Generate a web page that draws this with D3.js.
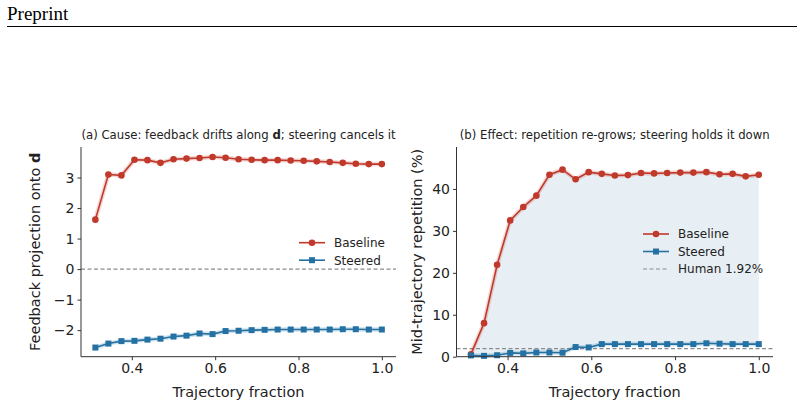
<!DOCTYPE html>
<html>
<head>
<meta charset="utf-8">
<script src="https://cdn.jsdelivr.net/npm/d3@7"></script>
<style>
  body { margin: 0; background: #fff; }
  svg text { font-family: "DejaVu Sans", sans-serif; fill: #222; }
</style>
</head>
<body>
<svg id="fig" width="804" height="406"></svg>
<script>
// trajectory fractions (i/32 for i = 10..32)
const fractions = d3.range(10, 33).map(i => i / 32);

// panel (a): feedback projection onto d
const projBaseline = [1.62, 3.10, 3.07, 3.58, 3.57, 3.48, 3.60, 3.62, 3.64, 3.67, 3.65, 3.60,
  3.58, 3.57, 3.57, 3.56, 3.55, 3.53, 3.51, 3.48, 3.45, 3.44, 3.44];
const projSteered = [-2.57, -2.44, -2.36, -2.35, -2.31, -2.28, -2.21, -2.18, -2.11, -2.13, -2.03, -2.02,
  -2.00, -1.99, -1.98, -1.98, -1.98, -1.98, -1.98, -1.97, -1.97, -1.98, -1.98];

// panel (b): mid-trajectory repetition (%)
const repBaseline = [0.6, 8.0, 21.9, 32.5, 35.7, 38.4, 43.4, 44.6, 42.3, 44.0, 43.6, 43.2,
  43.3, 43.8, 43.7, 43.8, 43.9, 43.9, 44.0, 43.5, 43.6, 43.0, 43.4];
const repSteered = [0.3, 0.2, 0.35, 0.9, 0.8, 1.0, 1.0, 0.95, 2.3, 2.2, 3.0, 3.0,
  3.0, 3.0, 3.0, 3.0, 3.0, 3.0, 3.2, 3.1, 3.0, 3.0, 3.0];
const humanRate = 1.92;

const xTicks = [0.4, 0.6, 0.8, 1.0];
const projTicks = [-2, -1, 0, 1, 2, 3];
const repTicks = [0, 10, 20, 30, 40];

const red = "#c0392b", blue = "#2471a3";

const svg = d3.select("#fig");

// page header
svg.append("text").attr("x", 7).attr("y", 20)
  .style("font-family", "'Liberation Serif', 'Times New Roman', serif")
  .style("font-size", "19px").style("fill", "#000")
  .text("Preprint");
svg.append("line").attr("x1", 7).attr("x2", 797).attr("y1", 26.5).attr("y2", 26.5)
  .attr("stroke", "#000").attr("stroke-width", 1);

const plotTop = 147, plotBottom = 356.7;

function panel(opts) {
  const g = svg.append("g");
  const x = d3.scaleLinear().domain([0.278, 1.034]).range([opts.left, opts.right]);
  const y = d3.scaleLinear().domain(opts.ydom).range([plotBottom, plotTop]);

  if (opts.fill) {
    g.append("path")
      .datum(fractions.map((f, i) => [f, opts.series[0].values[i], opts.series[1].values[i]]))
      .attr("fill", "#e8eff4")
      .attr("d", d3.area().x(d => x(d[0])).y0(d => y(d[2])).y1(d => y(d[1])));
  }

  // reference line
  g.append("line")
    .attr("x1", opts.left).attr("x2", opts.right)
    .attr("y1", y(opts.refY)).attr("y2", y(opts.refY))
    .attr("stroke", "#8c8c8c").attr("stroke-width", 1.1).attr("stroke-dasharray", "4,2.5");

  opts.series.forEach(s => {
    const line = d3.line().x((d, i) => x(fractions[i])).y(d => y(d));
    g.append("path").datum(s.values).attr("fill", "none")
      .attr("stroke", s.color).attr("stroke-opacity", 0.2).attr("stroke-width", 4.5).attr("d", line);
    g.append("path").datum(s.values).attr("fill", "none")
      .attr("stroke", s.color).attr("stroke-width", 1.6).attr("d", line);
    const m = g.append("g").attr("fill", s.color);
    if (s.marker === "circle") {
      m.selectAll("circle").data(s.values).join("circle")
        .attr("cx", (d, i) => x(fractions[i])).attr("cy", d => y(d)).attr("r", 3.3);
    } else {
      m.selectAll("rect").data(s.values).join("rect")
        .attr("x", (d, i) => x(fractions[i]) - 3).attr("y", d => y(d) - 3)
        .attr("width", 6).attr("height", 6);
    }
  });

  // axes
  const xa = g.append("g").attr("transform", `translate(0,${plotBottom})`)
    .call(d3.axisBottom(x).tickValues(xTicks).tickFormat(d3.format(".1f")).tickSize(3.5).tickPadding(3));
  const ya = g.append("g").attr("transform", `translate(${opts.left},0)`)
    .call(d3.axisLeft(y).tickValues(opts.yticks).tickFormat(d => d < 0 ? "\u2212" + Math.abs(d) : d).tickSize(3.5).tickPadding(3));
  [xa, ya].forEach(a => {
    a.select(".domain").attr("stroke", "#333").attr("stroke-width", 1);
    a.selectAll(".tick line").attr("stroke", "#333");
    a.selectAll(".tick text").style("font-size", "14px").style("fill", "#222")
      .style("font-family", "'DejaVu Sans', sans-serif");
  });
  xa.select(".domain").attr("d", `M${opts.left},0H${opts.right}`);
  ya.select(".domain").attr("d", `M0,${plotBottom}V${plotTop}`);

  // axis labels
  svg.append("text").attr("x", (opts.left + opts.right) / 2).attr("y", 397)
    .attr("text-anchor", "middle").style("font-size", "14.5px").text("Trajectory fraction");
  const yl = svg.append("text")
    .attr("transform", `translate(${opts.ylabelX},${(plotTop + plotBottom) / 2}) rotate(-90)`)
    .attr("text-anchor", "middle").style("font-size", "14.5px");
  opts.ylabel.forEach(p => yl.append("tspan").style("font-weight", p.bold ? "bold" : null).text(p.t));

  // title
  const tt = svg.append("text").attr("x", (opts.left + opts.right) / 2).attr("y", 139)
    .attr("text-anchor", "middle").style("font-size", "11.7px");
  opts.title.forEach(p => tt.append("tspan").style("font-weight", p.bold ? "bold" : null).text(p.t));

  // legend
  const lg = svg.append("g").attr("transform", `translate(${opts.legX},${opts.legY})`);
  const items = opts.series.map(s => ({ label: s.label, color: s.color, marker: s.marker }));
  if (opts.refLabel) items.push({ label: opts.refLabel, color: "#8c8c8c", dashed: true });
  items.forEach((it, i) => {
    const row = lg.append("g").attr("transform", `translate(0,${i * 17.5})`);
    row.append("line").attr("x1", 0).attr("x2", 26).attr("stroke", it.color)
      .attr("stroke-width", it.dashed ? 1.1 : 1.6).attr("stroke-dasharray", it.dashed ? "4,2.5" : null);
    if (it.marker === "circle") row.append("circle").attr("cx", 13).attr("r", 3.3).attr("fill", it.color);
    if (it.marker === "square") row.append("rect").attr("x", 10).attr("y", -3).attr("width", 6).attr("height", 6).attr("fill", it.color);
    row.append("text").attr("x", 35).attr("y", 4.3).style("font-size", "12px").text(it.label);
  });
}

panel({
  left: 81, right: 396, ydom: [-2.87, 4.0], yticks: projTicks, refY: 0,
  series: [
    { label: "Baseline", values: projBaseline, color: red, marker: "circle" },
    { label: "Steered", values: projSteered, color: blue, marker: "square" }
  ],
  ylabel: [{ t: "Feedback projection onto " }, { t: "d", bold: true }], ylabelX: 40,
  title: [{ t: "(a) Cause: feedback drifts along " }, { t: "d", bold: true }, { t: "; steering cancels it" }],
  legX: 299, legY: 242.7
});

panel({
  left: 456.5, right: 773, ydom: [0, 50], yticks: repTicks, refY: humanRate, fill: true,
  series: [
    { label: "Baseline", values: repBaseline, color: red, marker: "circle" },
    { label: "Steered", values: repSteered, color: blue, marker: "square" }
  ],
  refLabel: "Human 1.92%",
  ylabel: [{ t: "Mid-trajectory repetition (%)" }], ylabelX: 422,
  title: [{ t: "(b) Effect: repetition re-grows; steering holds it down" }],
  legX: 643, legY: 234
});
</script>
</body>
</html>
